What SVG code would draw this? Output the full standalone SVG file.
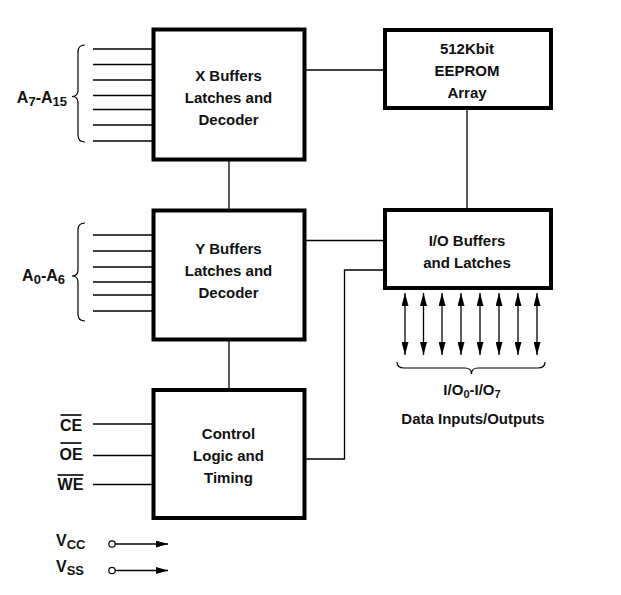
<svg xmlns="http://www.w3.org/2000/svg" width="621" height="595" viewBox="0 0 621 595">
<style>
.box{fill:#fff;stroke:#000;stroke-width:4}
.t{font-family:"Liberation Sans",Arial,sans-serif;font-weight:bold;font-size:15px;fill:#111;text-anchor:middle}
.lbl{font-family:"Liberation Sans",Arial,sans-serif;font-weight:bold;font-size:16px;fill:#111}
.w{stroke:#000;stroke-width:1.3;fill:none}
.br{stroke:#000;stroke-width:1.2;fill:none}
</style>
<defs>
<marker id="ah" markerWidth="13" markerHeight="7" refX="13" refY="3.5" orient="auto-start-reverse" markerUnits="userSpaceOnUse">
<path d="M0,0 L13,3.5 L0,7 Z" fill="#000"/>
</marker>
<marker id="ah2" markerWidth="12" markerHeight="7" refX="12" refY="3.5" orient="auto-start-reverse" markerUnits="userSpaceOnUse">
<path d="M0,0 L12,3.5 L0,7 Z" fill="#000"/>
</marker>
</defs>

<g id="connectors">
<line class="w" x1="306" y1="70" x2="383" y2="70"/>
<line class="w" x1="229" y1="161" x2="229" y2="209"/>
<line class="w" x1="229" y1="341" x2="229" y2="388"/>
<line class="w" x1="467" y1="110" x2="467" y2="208"/>
<line class="w" x1="306" y1="240.5" x2="383" y2="240.5"/>
<polyline class="w" points="306,459 344.5,459 344.5,270 383,270"/>
<line class="w" x1="93" y1="49" x2="152" y2="49"/>
<line class="w" x1="93" y1="64.5" x2="152" y2="64.5"/>
<line class="w" x1="93" y1="80" x2="152" y2="80"/>
<line class="w" x1="93" y1="95.5" x2="152" y2="95.5"/>
<line class="w" x1="93" y1="109.5" x2="152" y2="109.5"/>
<line class="w" x1="93" y1="125" x2="152" y2="125"/>
<line class="w" x1="93" y1="141" x2="152" y2="141"/>
<line class="w" x1="93" y1="235" x2="152" y2="235"/>
<line class="w" x1="93" y1="251" x2="152" y2="251"/>
<line class="w" x1="93" y1="267" x2="152" y2="267"/>
<line class="w" x1="93" y1="282" x2="152" y2="282"/>
<line class="w" x1="93" y1="295" x2="152" y2="295"/>
<line class="w" x1="93" y1="311" x2="152" y2="311"/>
<line class="w" x1="93" y1="424" x2="152" y2="424"/>
<line class="w" x1="93" y1="455.5" x2="152" y2="455.5"/>
<line class="w" x1="93" y1="484.5" x2="152" y2="484.5"/>
<line class="w" x1="405" y1="293" x2="405" y2="355" marker-start="url(#ah)" marker-end="url(#ah)"/>
<line class="w" x1="423.5" y1="293" x2="423.5" y2="355" marker-start="url(#ah)" marker-end="url(#ah)"/>
<line class="w" x1="442" y1="293" x2="442" y2="355" marker-start="url(#ah)" marker-end="url(#ah)"/>
<line class="w" x1="461" y1="293" x2="461" y2="355" marker-start="url(#ah)" marker-end="url(#ah)"/>
<line class="w" x1="480" y1="293" x2="480" y2="355" marker-start="url(#ah)" marker-end="url(#ah)"/>
<line class="w" x1="499" y1="293" x2="499" y2="355" marker-start="url(#ah)" marker-end="url(#ah)"/>
<line class="w" x1="518" y1="293" x2="518" y2="355" marker-start="url(#ah)" marker-end="url(#ah)"/>
<line class="w" x1="537" y1="293" x2="537" y2="355" marker-start="url(#ah)" marker-end="url(#ah)"/>
<circle cx="112" cy="544" r="3.2" fill="#fff" stroke="#000" stroke-width="1.2"/>
<line class="w" x1="115.2" y1="544" x2="168" y2="544" marker-end="url(#ah2)"/>
<circle cx="112" cy="570.5" r="3.2" fill="#fff" stroke="#000" stroke-width="1.2"/>
<line class="w" x1="115.2" y1="570.5" x2="168" y2="570.5" marker-end="url(#ah2)"/>
</g>

<g id="braces">
<path class="br" d="M85,45 Q78,45 78,52 L78,90 Q78,96.5 72,96.5 Q78,96.5 78,103 L78,135 Q78,142 85,142"/>
<path class="br" d="M85,223 Q78,223 78,230 L78,270 Q78,276 72,276 Q78,276 78,282 L78,314 Q78,321 85,321"/>
<path class="br" d="M397,362 Q397,368 404,368 L465,368 Q471.5,368 471.5,374 Q471.5,368 478,368 L538,368 Q545,368 545,362"/>
</g>

<g id="labels">
<text class="lbl" x="67" y="103" text-anchor="end">A<tspan font-size="13" dy="3">7</tspan><tspan dy="-3">-A</tspan><tspan font-size="13" dy="3">15</tspan></text>
<text class="lbl" x="65" y="281" text-anchor="end">A<tspan font-size="13" dy="3">0</tspan><tspan dy="-3">-A</tspan><tspan font-size="13" dy="3">6</tspan></text>
<text class="lbl" x="71" y="430.5" text-anchor="middle" font-size="14">CE</text>
<line x1="60.5" y1="415" x2="81.5" y2="415" stroke="#000" stroke-width="1.6"/>
<text class="lbl" x="71" y="459.5" text-anchor="middle" font-size="14">OE</text>
<line x1="60.5" y1="443" x2="81.5" y2="443" stroke="#000" stroke-width="1.6"/>
<text class="lbl" x="70.5" y="490" text-anchor="middle" font-size="14">WE</text>
<line x1="57.5" y1="475" x2="83.5" y2="475" stroke="#000" stroke-width="1.6"/>
<text class="lbl" x="56" y="546" font-size="14" font-weight="normal">V<tspan font-size="13" font-weight="bold" dy="3">CC</tspan></text>
<text class="lbl" x="56" y="572" font-size="14" font-weight="normal">V<tspan font-size="13" font-weight="bold" dy="3">SS</tspan></text>
<text class="t" x="472" y="395" font-size="14">I/O<tspan font-size="11" dy="3">0</tspan><tspan dy="-3">-I/O</tspan><tspan font-size="11" dy="3">7</tspan></text>
<text class="t" x="473" y="424" font-size="13.5">Data Inputs/Outputs</text>
</g>

<g id="xbuf">
<rect class="box" x="153.5" y="29.5" width="151" height="130"/>
<text class="t" x="228.5" y="80.5">X Buffers</text>
<text class="t" x="228.5" y="102.5">Latches and</text>
<text class="t" x="228.5" y="124.5">Decoder</text>
</g>
<g id="eeprom">
<rect class="box" x="385" y="30" width="166" height="78"/>
<text class="t" x="467" y="53.5">512Kbit</text>
<text class="t" x="467" y="75.5">EEPROM</text>
<text class="t" x="467" y="97.5">Array</text>
</g>
<g id="ybuf">
<rect class="box" x="153.5" y="210.5" width="151" height="129"/>
<text class="t" x="228.5" y="253.5">Y Buffers</text>
<text class="t" x="228.5" y="275.5">Latches and</text>
<text class="t" x="228.5" y="297.5">Decoder</text>
</g>
<g id="iobuf">
<rect class="box" x="385" y="210" width="166" height="78"/>
<text class="t" x="467" y="245.5">I/O Buffers</text>
<text class="t" x="467" y="267.5">and Latches</text>
</g>
<g id="control">
<rect class="box" x="153.5" y="390" width="151" height="128"/>
<text class="t" x="228.5" y="438.5">Control</text>
<text class="t" x="228.5" y="460.5">Logic and</text>
<text class="t" x="228.5" y="482.5">Timing</text>
</g>
</svg>
